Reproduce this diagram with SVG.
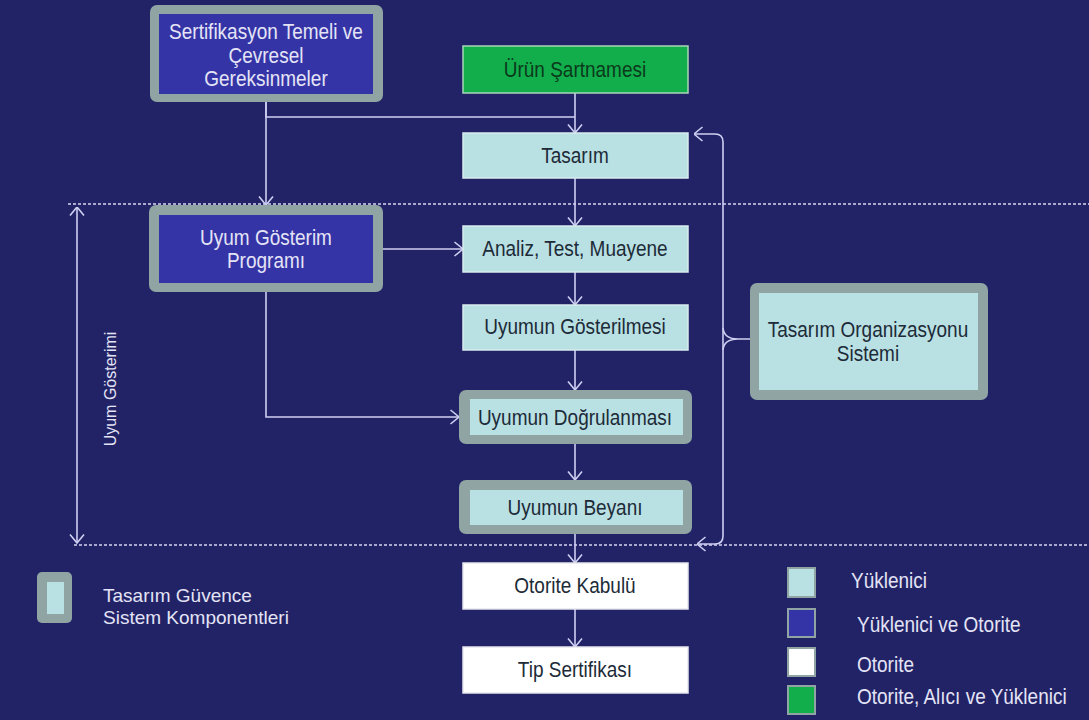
<svg xmlns="http://www.w3.org/2000/svg" width="1089" height="720" viewBox="0 0 1089 720">
  <style>
    text { font-family: "Liberation Sans", Arial, sans-serif; font-size: 19px; }
    .tall { transform-box: fill-box; transform-origin: 50% 100%; transform: scaleY(1.12); }
    .lt { fill: #e4e4f6; }
    .dk { fill: #1d2b38; text-anchor: middle; }
    .gk { fill: #0b3a1c; text-anchor: middle; }
    .mid { text-anchor: middle; }
    .frame { fill: #8fa4a3; }
    .blue { fill: #3534a6; }
    .light { fill: #b9e0e3; }
    .lightb { fill: #b9e0e3; stroke: #d8ecee; stroke-width: 1.5; }
    .white { fill: #ffffff; stroke: #e6e6ee; stroke-width: 1.5; }
    .green { fill: #12ae4b; stroke: #a8d6b8; stroke-width: 1.5; }
    .conn { fill: none; stroke: #cfcff2; stroke-width: 1.6; }
    .dash { fill: none; stroke: #d6d6f4; stroke-width: 1.6; stroke-dasharray: 3 2; }
    .sw { stroke: #8fa4a3; stroke-width: 2; }
  </style>
  <defs>
    <marker id="chev" viewBox="0 0 10 16" refX="9.5" refY="8" markerWidth="10" markerHeight="16" markerUnits="userSpaceOnUse" orient="auto-start-reverse">
      <path d="M1,1 L9.5,8 L1,15" fill="none" stroke="#cfcff2" stroke-width="1.6"/>
    </marker>
  </defs>

  <!-- background -->
  <rect x="0" y="0" width="1089" height="720" fill="#222366"/>

  <!-- connectors -->
  <g id="connectors">
    <path class="dash" d="M68,204 H1089"/>
    <path class="dash" d="M74,545 H1089"/>
    <path class="conn" d="M266,102 V117 H575"/>
    <path class="conn" d="M266,102 V205" marker-end="url(#chev)"/>
    <path class="conn" d="M575,93 V133" marker-end="url(#chev)"/>
    <path class="conn" d="M575,178 V226" marker-end="url(#chev)"/>
    <path class="conn" d="M575,272 V305" marker-end="url(#chev)"/>
    <path class="conn" d="M575,350 V390" marker-end="url(#chev)"/>
    <path class="conn" d="M575,444 V480" marker-end="url(#chev)"/>
    <path class="conn" d="M575,534 V563" marker-end="url(#chev)"/>
    <path class="conn" d="M575,609 V647" marker-end="url(#chev)"/>
    <path class="conn" d="M383,249 H463" marker-end="url(#chev)"/>
    <path class="conn" d="M266,292 V417 H459" marker-end="url(#chev)"/>
    <!-- feedback brace from the organisation system -->
    <path class="conn" d="M723,339 V142 Q723,134 715,134 H694" marker-end="url(#chev)"/>
    <path class="conn" d="M723,339 V536 Q723,544 715,544 H697" marker-end="url(#chev)"/>
    <path class="conn" d="M723,328 Q724,339 738,339 H754 M723,350 Q724,339 738,339"/>
    <!-- span of the compliance demonstration -->
    <path class="conn" d="M77,207 V543" marker-start="url(#chev)" marker-end="url(#chev)"/>
  </g>

  <text class="lt mid" style="font-size:16px" transform="translate(116,389) rotate(-90)">Uyum Gösterimi</text>

  <g id="sertifikasyon">
    <rect class="frame" x="150" y="5" width="233" height="97" rx="7"/>
    <rect class="blue" x="159" y="14" width="214" height="80"/>
    <text class="lt mid tall" x="266" y="39">Sertifikasyon Temeli ve</text>
    <text class="lt mid tall" x="266" y="63">Çevresel</text>
    <text class="lt mid tall" x="266" y="86">Gereksinmeler</text>
  </g>

  <g id="urun-sartnamesi">
    <rect class="green" x="463" y="46" width="225" height="47"/>
    <text class="gk tall" x="575" y="77">Ürün Şartnamesi</text>
  </g>

  <g id="tasarim">
    <rect class="lightb" x="463" y="133" width="225" height="45"/>
    <text class="dk tall" x="575" y="163">Tasarım</text>
  </g>

  <g id="uyum-gosterim-programi">
    <rect class="frame" x="149" y="205" width="234" height="87" rx="7"/>
    <rect class="blue" x="159" y="215" width="214" height="68"/>
    <text class="lt mid tall" x="266" y="245">Uyum Gösterim</text>
    <text class="lt mid tall" x="266" y="268">Programı</text>
  </g>

  <g id="analiz">
    <rect class="lightb" x="463" y="226" width="225" height="46"/>
    <text class="dk tall" x="575" y="256">Analiz, Test, Muayene</text>
  </g>

  <g id="uyumun-gosterilmesi">
    <rect class="lightb" x="463" y="305" width="225" height="45"/>
    <text class="dk tall" x="575" y="334">Uyumun Gösterilmesi</text>
  </g>

  <g id="uyumun-dogrulanmasi">
    <rect class="frame" x="459" y="390" width="233" height="54" rx="7"/>
    <rect class="light" x="470" y="399" width="213" height="36"/>
    <text class="dk tall" x="575" y="425">Uyumun Doğrulanması</text>
  </g>

  <g id="uyumun-beyani">
    <rect class="frame" x="459" y="480" width="233" height="54" rx="7"/>
    <rect class="light" x="470" y="490" width="213" height="35"/>
    <text class="dk tall" x="575" y="515">Uyumun Beyanı</text>
  </g>

  <g id="tasarim-organizasyonu">
    <rect class="frame" x="750" y="283" width="238" height="117" rx="7"/>
    <rect class="light" x="759" y="293" width="219" height="97"/>
    <text class="dk tall" x="868" y="337">Tasarım Organizasyonu</text>
    <text class="dk tall" x="868" y="361">Sistemi</text>
  </g>

  <g id="otorite-kabulu">
    <rect class="white" x="463" y="563" width="225" height="46"/>
    <text class="dk tall" x="575" y="593">Otorite Kabulü</text>
  </g>

  <g id="tip-sertifikasi">
    <rect class="white" x="463" y="647" width="225" height="46"/>
    <text class="dk tall" x="575" y="677">Tip Sertifikası</text>
  </g>

  <!-- legend -->
  <g id="legend-guvence">
    <rect class="frame" x="37" y="572" width="35" height="51" rx="5"/>
    <rect class="light" x="47" y="582" width="17" height="32"/>
    <text class="lt" x="103" y="602">Tasarım Güvence</text>
    <text class="lt" x="103" y="624">Sistem Komponentleri</text>
  </g>

  <g id="legend-roles">
    <rect class="sw" x="788" y="568" width="27" height="29" fill="#b9e0e3"/>
    <text class="lt tall" x="851" y="588">Yüklenici</text>
    <rect class="sw" x="788" y="609" width="27" height="28" fill="#3534a6"/>
    <text class="lt tall" x="857" y="632">Yüklenici ve Otorite</text>
    <rect class="sw" x="788" y="648" width="27" height="28" fill="#ffffff"/>
    <text class="lt tall" x="857" y="672">Otorite</text>
    <rect class="sw" x="788" y="686" width="27" height="28" fill="#12ae4b"/>
    <text class="lt tall" x="857" y="704">Otorite, Alıcı ve Yüklenici</text>
  </g>
</svg>
